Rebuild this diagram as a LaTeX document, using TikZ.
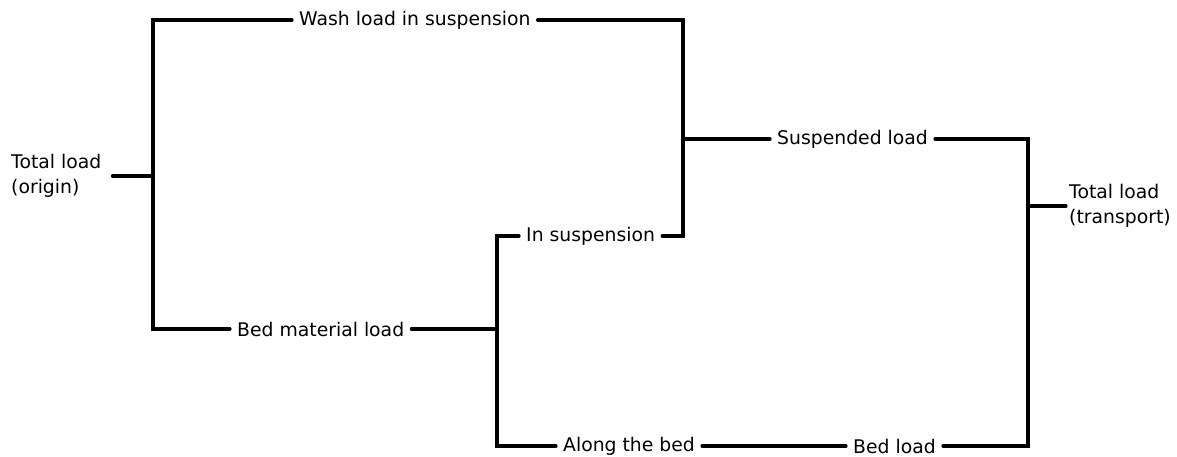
\documentclass[tikz,border=0pt]{standalone}
\usepackage{fontspec}
\setmainfont{DejaVu Sans}
\begin{document}
\begin{tikzpicture}[x=1pt,y=-1pt,
  lbl/.style={inner xsep=7pt,inner ysep=1pt,font=\fontsize{18.8}{25}\selectfont},
  wire/.style={line width=3.2pt,line cap=round,line join=miter}]
\useasboundingbox (0,0) rectangle (1177,457);
% texts
\node[lbl,anchor=west,align=left,inner xsep=11pt] (origin) at (0,176) {Total load\\(origin)};
\node[lbl,anchor=west] (wash) at (292,20) {Wash load in suspension};
\node[lbl,anchor=west] (bedmat) at (230,329) {Bed material load};
\node[lbl,anchor=west] (insusp) at (519,236) {In suspension};
\node[lbl,anchor=west] (along) at (556,446) {Along the bed};
\node[lbl,anchor=west] (susp) at (770,139) {Suspended load};
\node[lbl,anchor=west] (bedload) at (846,446) {Bed load};
\node[lbl,anchor=west,align=left,inner xsep=3pt] (transport) at (1066,206) {Total load\\(transport)};
% junction coordinates
\coordinate (jA) at (153,176);
\coordinate (jB) at (497,329);
\coordinate (jC) at (683,139);
\coordinate (jD) at (1028,206);
% connectors
\draw[wire] (origin.east) -- (jA);
\draw[wire] (wash.west) -| (jA) |- (bedmat.west);
\draw[wire] (bedmat.east) -- (jB);
\draw[wire] (insusp.west) -| (jB) |- (along.west);
\draw[wire] (wash.east) -| (jC) |- (insusp.east);
\draw[wire] (jC) -- (susp.west);
\draw[wire] (along.east) -- (bedload.west);
\draw[wire] (susp.east) -| (jD) |- (bedload.east);
\draw[wire] (jD) -- (transport.west);
\end{tikzpicture}
\end{document}
